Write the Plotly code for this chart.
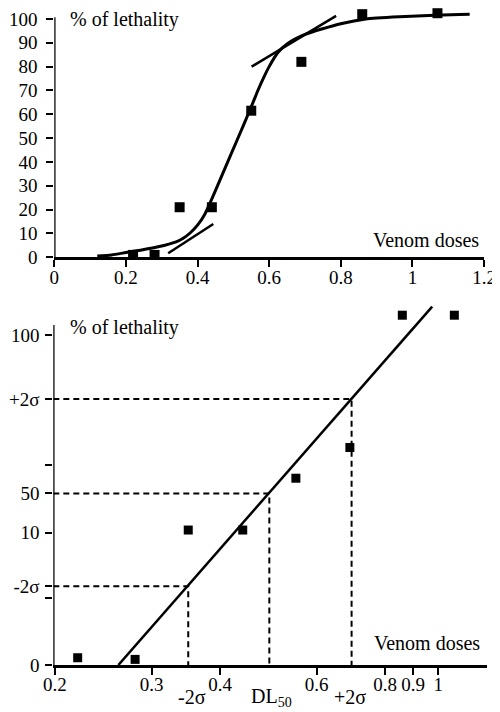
import plotly.graph_objects as go

# ---------------- data ----------------
# top chart: raw dose-response
dose = [0.22, 0.28, 0.35, 0.44, 0.55, 0.69, 0.86, 1.07]
lethality_pct = [1, 1, 21, 21, 61.5, 82, 102, 102.4]

# sigmoid curve
curve_x = [0.12, 0.16, 0.20, 0.24, 0.29, 0.34, 0.36, 0.38, 0.40, 0.42, 0.45, 0.49, 0.53,
           0.555, 0.57, 0.585, 0.60, 0.625, 0.65, 0.70, 0.80, 0.87, 0.98, 1.08, 1.16]
curve_y = [0.5, 1.0, 2.0, 3.0, 4.4, 6.5, 8.0, 10.3, 13.5, 18, 28, 42, 56,
           65, 70.5, 75.5, 80, 86, 89.5, 93.5, 98, 100, 101, 101.7, 102]

# tangent lines
tan_low_x = [0.318, 0.444]
tan_low_y = [1.7, 14.0]
tan_high_x = [0.551, 0.787]
tan_high_y = [80.0, 101.3]

# bottom chart: probit-transformed (y in plot units of the probit scale)
probit_y = [2.2, 1.7, 40.9, 40.9, 56.6, 65.9, 106, 106]
reg_x = [0.261, 0.975]
reg_y = [0, 108.6]

# probit axis ticks
probit_tickvals = [0, 23.9, 40.1, 52.0, 80.6, 100]
probit_ticktext = ["0", "-2σ", "10", "50", "+2σ", "100"]
probit_minor = [20.2, 60.6]

# reference levels: (-2σ, DL50, +2σ)
ref_y = [23.9, 52.0, 80.6]
ref_x = [0.350, 0.492, 0.695]
ref_labels = ["-2σ", "DL<sub>50</sub>", "+2σ"]

top_xticks = [0, 0.2, 0.4, 0.6, 0.8, 1, 1.2]
top_yticks = [0, 10, 20, 30, 40, 50, 60, 70, 80, 90, 100]
bot_xticks = [0.2, 0.3, 0.4, 0.6, 0.8, 0.9, 1]

# ---------------- figure ----------------
# the page places the figure 8px from the top-left corner (body margin)
OFF = 8
W, H = 500 - OFF, 712 - OFF
FONT = "Liberation Serif"
FS_TICK = 19
FS_TXT = 20

def fx(x):
    return (x - OFF) / W

def fy(y):
    return 1 - (y - OFF) / H

fig = go.Figure()

# top
fig.add_trace(go.Scatter(x=curve_x, y=curve_y, mode="lines",
                         line=dict(color="black", width=3, shape="spline", smoothing=0.6),
                         xaxis="x", yaxis="y", showlegend=False, hoverinfo="skip"))
fig.add_trace(go.Scatter(x=tan_low_x, y=tan_low_y, mode="lines",
                         line=dict(color="black", width=2.5),
                         xaxis="x", yaxis="y", showlegend=False))
fig.add_trace(go.Scatter(x=tan_high_x, y=tan_high_y, mode="lines",
                         line=dict(color="black", width=2.5),
                         xaxis="x", yaxis="y", showlegend=False))
fig.add_trace(go.Scatter(x=dose, y=lethality_pct, mode="markers",
                         marker=dict(symbol="square", size=10, color="black"),
                         xaxis="x", yaxis="y", showlegend=False, cliponaxis=False))

# bottom
for rx, ry in zip(ref_x, ref_y):
    fig.add_trace(go.Scatter(x=[0.1986, rx, rx], y=[ry, ry, 0], mode="lines",
                             line=dict(color="black", width=2, dash="6px,4px"),
                             xaxis="x2", yaxis="y2", showlegend=False))
fig.add_trace(go.Scatter(x=reg_x, y=reg_y, mode="lines",
                         line=dict(color="black", width=2.5),
                         xaxis="x2", yaxis="y2", showlegend=False))
fig.add_trace(go.Scatter(x=dose, y=probit_y, mode="markers",
                         marker=dict(symbol="square", size=9, color="black"),
                         xaxis="x2", yaxis="y2", showlegend=False, cliponaxis=False))

axis_common = dict(showgrid=False, zeroline=False, ticks="outside", ticklen=7,
                   tickwidth=2, tickcolor="black", linecolor="black", linewidth=2.5,
                   automargin=False,
                   tickfont=dict(family=FONT, size=FS_TICK, color="black"))

fig.update_layout(
    width=W, height=H,
    margin=dict(l=0, r=0, t=0, b=0, autoexpand=False),
    paper_bgcolor="white", plot_bgcolor="white",
    xaxis=dict(domain=[fx(54.3), fx(484)], range=[0, 1.2], tickvals=top_xticks,
               showline=True, anchor="y", ticklabelstandoff=-6, **axis_common),
    yaxis=dict(domain=[fy(257.3), fy(10.6)], range=[0, 103.5], tickvals=top_yticks,
               showline=False, anchor="x", ticklabelstandoff=5, **axis_common),
    xaxis2=dict(domain=[fx(53.3), fx(486.7)], type="log",
                range=[-0.70204, 0.0884], tickvals=bot_xticks,
                ticktext=[str(v) for v in bot_xticks],
                showline=True, anchor="y2", ticklabelstandoff=-7, **axis_common),
    yaxis2=dict(domain=[fy(665), fy(298.7)], range=[0, 111],
                tickvals=probit_tickvals, ticktext=probit_ticktext,
                minor=dict(tickvals=probit_minor, ticks="outside", ticklen=7,
                           tickwidth=2, tickcolor="black"),
                showline=False, anchor="x2", ticklabelstandoff=2, **axis_common),
)

# y axis lines (stop just above the top tick)
fig.add_shape(type="line", xref="x", yref="y", x0=0, x1=0, y0=0, y1=100.7,
              line=dict(color="black", width=2.5))
fig.add_shape(type="line", xref="x2", yref="y2", x0=0.1986, x1=0.1986, y0=0, y1=103,
              line=dict(color="black", width=2.5))

ann_font = dict(family=FONT, size=FS_TXT, color="black")
annotations = [
    dict(x=fx(68), y=fy(19), text="% of lethality", xanchor="left", yanchor="middle"),
    dict(x=fx(481), y=fy(240), text="Venom doses", xanchor="right", yanchor="middle"),
    dict(x=fx(68), y=fy(327), text="% of lethality", xanchor="left", yanchor="middle"),
    dict(x=fx(482), y=fy(643), text="Venom doses", xanchor="right", yanchor="middle"),
]
for lbl, cx in zip(ref_labels, [191.7, 271.7, 350]):
    annotations.append(dict(x=fx(cx), y=fy(697), text=lbl, xanchor="center", yanchor="middle"))
for a in annotations:
    a.update(xref="paper", yref="paper", showarrow=False, font=ann_font)
fig.update_layout(annotations=annotations)

fig.write_html("out.html")
